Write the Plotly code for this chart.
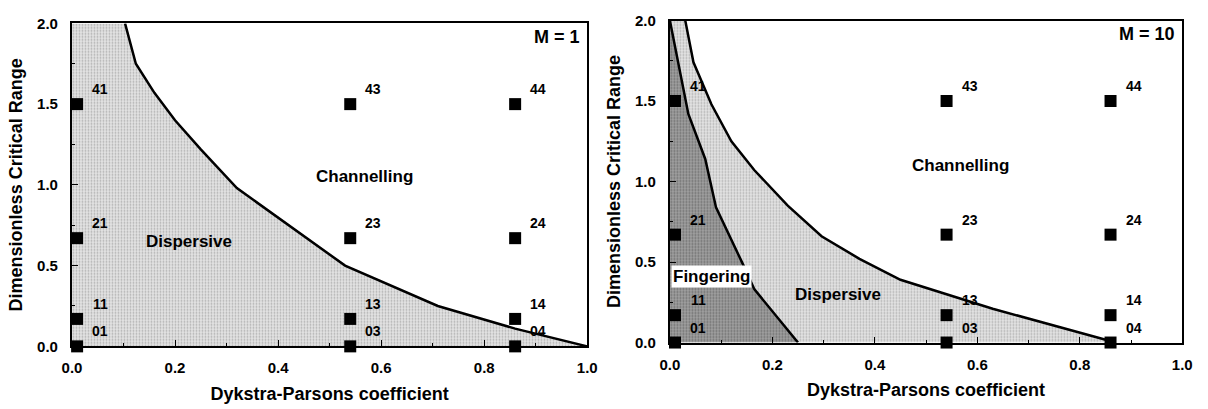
import plotly.graph_objects as go

# ---- data ----
pt_x = [0.01, 0.01, 0.01, 0.01, 0.54, 0.54, 0.54, 0.54, 0.86, 0.86, 0.86, 0.86]
pt_y = [0.0, 0.17, 0.67, 1.5, 0.0, 0.17, 0.67, 1.5, 0.0, 0.17, 0.67, 1.5]
pt_names = ["01", "11", "21", "41", "03", "13", "23", "43", "04", "14", "24", "44"]

# M = 1 dispersive/channelling boundary
b1_x = [0.103, 0.124, 0.16, 0.20, 0.25, 0.32, 0.53, 0.71, 0.86, 1.0]
b1_y = [2.0, 1.75, 1.57, 1.40, 1.22, 0.98, 0.50, 0.25, 0.11, 0.0]

# M = 10 dispersive/channelling boundary
b10o_x = [0.03, 0.046, 0.081, 0.12, 0.165, 0.23, 0.296, 0.37, 0.45, 0.63, 0.87]
b10o_y = [2.0, 1.74, 1.48, 1.25, 1.07, 0.85, 0.66, 0.52, 0.39, 0.21, 0.0]

# M = 10 fingering/dispersive boundary
b10i_x = [0.0, 0.017, 0.036, 0.069, 0.09, 0.142, 0.165, 0.25]
b10i_y = [2.0, 1.73, 1.42, 1.14, 0.84, 0.49, 0.33, 0.0]

x_ticks = [0.0, 0.2, 0.4, 0.6, 0.8, 1.0]
y_ticks = [0.0, 0.5, 1.0, 1.5, 2.0]

FONT = "Liberation Sans, Arial, sans-serif"
fig = go.Figure()

light_pat = dict(shape=".", fgcolor="#7a7a7a", bgcolor="#e4e4e4", size=3, solidity=0.3)
dark_pat = dict(shape=".", fgcolor="#3a3a3a", bgcolor="#a0a0a0", size=3, solidity=0.35)

# ---- left panel fills ----
fig.add_trace(go.Scatter(x=[0] + b1_x + [0], y=[2] + b1_y + [0], fill="toself",
                         fillcolor="#dcdcdc", fillpattern=light_pat, mode="none",
                         xaxis="x", yaxis="y", showlegend=False, hoverinfo="skip"))
fig.add_trace(go.Scatter(x=b1_x, y=b1_y, mode="lines", line=dict(color="black", width=2.5),
                         xaxis="x", yaxis="y", showlegend=False))

# ---- right panel fills ----
fig.add_trace(go.Scatter(x=[0] + b10o_x + [0], y=[2] + b10o_y + [0], fill="toself",
                         fillcolor="#dcdcdc", fillpattern=light_pat, mode="none",
                         xaxis="x2", yaxis="y2", showlegend=False, hoverinfo="skip"))
fig.add_trace(go.Scatter(x=b10i_x + [0], y=b10i_y + [0], fill="toself",
                         fillcolor="#888888", fillpattern=dark_pat, mode="none",
                         xaxis="x2", yaxis="y2", showlegend=False, hoverinfo="skip"))
fig.add_trace(go.Scatter(x=b10o_x, y=b10o_y, mode="lines", line=dict(color="black", width=2.5),
                         xaxis="x2", yaxis="y2", showlegend=False))
fig.add_trace(go.Scatter(x=b10i_x, y=b10i_y, mode="lines", line=dict(color="black", width=2.5),
                         xaxis="x2", yaxis="y2", showlegend=False))

# ---- points ----
for xa, ya in [("x", "y"), ("x2", "y2")]:
    fig.add_trace(go.Scatter(x=pt_x, y=pt_y, mode="markers",
                             marker=dict(symbol="square", size=12, color="black"),
                             xaxis=xa, yaxis=ya, showlegend=False, cliponaxis=False))
    for px, py, nm in zip(pt_x, pt_y, pt_names):
        fig.add_annotation(x=px, y=py, xref=xa, yref=ya, text=nm, showarrow=False,
                           xshift=23, yshift=15,
                           font=dict(family=FONT, size=14, color="black", weight="bold"))

# ---- region labels ----
lab_font = dict(family=FONT, size=17, color="black", weight="bold")
m_font = dict(family=FONT, size=18, color="black", weight="bold")
fig.add_annotation(x=0.227, y=0.65, xref="x", yref="y", text="Dispersive", showarrow=False, font=lab_font)
fig.add_annotation(x=0.567, y=1.05, xref="x", yref="y", text="Channelling", showarrow=False, font=lab_font)
fig.add_annotation(x=0.99, y=1.99, xref="x", yref="y", text="M = 1", showarrow=False,
                   xanchor="right", yanchor="top", font=m_font)

fig.add_annotation(x=0.328, y=0.30, xref="x2", yref="y2", text="Dispersive", showarrow=False, font=lab_font)
fig.add_annotation(x=0.568, y=1.10, xref="x2", yref="y2", text="Channelling", showarrow=False, font=lab_font)
fig.add_annotation(x=0.003, y=0.41, xref="x2", yref="y2", text="Fingering", showarrow=False,
                   xanchor="left", bgcolor="white", borderpad=1, font=lab_font)
fig.add_annotation(x=0.99, y=1.99, xref="x2", yref="y2", text="M = 10", showarrow=False,
                   xanchor="right", yanchor="top", font=m_font)

tick_font = dict(family=FONT, size=15, color="black", weight="bold")
title_font = dict(family=FONT, size=18, color="black", weight="bold")

def xax(domain, anchor):
    return dict(domain=domain, anchor=anchor, range=[0, 1], tickvals=x_ticks,
                ticktext=[f"{v:.1f}" for v in x_ticks], ticks="inside", ticklen=6,
                tickcolor="black", showline=True, linecolor="black", linewidth=2, mirror=True,
                showgrid=False, zeroline=False, tickfont=tick_font, ticklabelstandoff=7,
                minor=dict(dtick=0.1, ticks="inside", ticklen=3, tickcolor="black"),
                title=dict(text="Dykstra-Parsons coefficient", font=title_font, standoff=12))

def yax(domain, anchor):
    return dict(domain=domain, anchor=anchor, range=[0, 2], tickvals=y_ticks,
                ticktext=[f"{v:.1f}" for v in y_ticks], ticks="inside", ticklen=6,
                tickcolor="black", showline=True, linecolor="black", linewidth=2, mirror=True,
                showgrid=False, zeroline=False, tickfont=tick_font, ticklabelstandoff=9,
                minor=dict(dtick=0.25, ticks="inside", ticklen=3, tickcolor="black"),
                title=dict(text="Dimensionless Critical Range", font=title_font, standoff=10))

fig.update_layout(
    width=1208, height=409, margin=dict(l=0, r=0, t=0, b=0),
    paper_bgcolor="white", plot_bgcolor="white",
    xaxis=xax([63 / 1208, 587 / 1208], "y"),
    yaxis=yax([1 - 352 / 409, 1 - 15 / 409], "x"),
    xaxis2=xax([671 / 1208, 1192 / 1208], "y2"),
    yaxis2=yax([1 - 348 / 409, 1 - 12 / 409], "x2"),
)

fig.write_html("out.html")
